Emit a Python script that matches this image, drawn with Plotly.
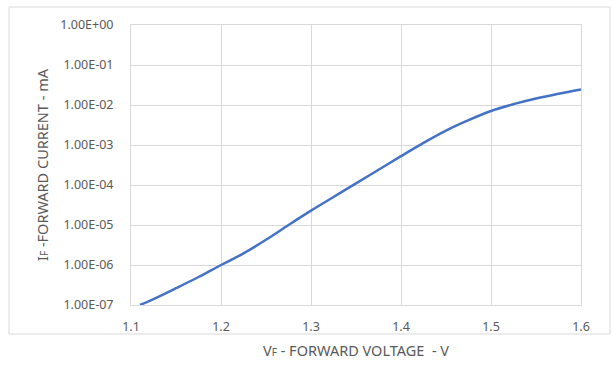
import plotly.graph_objects as go

voltage = [1.11, 1.125, 1.15, 1.175, 1.2, 1.225, 1.25, 1.275, 1.3, 1.325, 1.35, 1.375, 1.4, 1.425, 1.45, 1.475, 1.5, 1.525, 1.55, 1.575, 1.6]
current = [1.0e-7, 1.41e-7, 2.63e-7, 5.01e-7, 1.0e-6, 1.95e-6, 4.27e-6, 1.0e-5, 2.29e-5, 5.01e-5, 1.10e-4, 2.40e-4,
           5.25e-4, 1.13e-3, 2.29e-3, 4.17e-3, 7.08e-3, 1.05e-2, 1.46e-2, 1.92e-2, 2.45e-2]

y_tickvals = [1e-7, 1e-6, 1e-5, 1e-4, 1e-3, 1e-2, 1e-1, 1e0]
y_ticktext = ["1.00E-07", "1.00E-06", "1.00E-05", "1.00E-04", "1.00E-03", "1.00E-02", "1.00E-01", "1.00E+00"]
x_tickvals = [1.1, 1.2, 1.3, 1.4, 1.5, 1.6]
x_ticktext = ["1.1", "1.2", "1.3", "1.4", "1.5", "1.6"]
x_title = "V<span style='font-size:10px'>F</span> - FORWARD VOLTAGE  - V"
y_title = "I<span style='font-size:10px'>F</span> -FORWARD CURRENT - mA"

W, H = 613, 376
L, R, T, B = 131, 32, 25, 71
pw, ph = W - L - R, H - T - B

fig = go.Figure()
fig.add_trace(go.Scatter(x=voltage, y=current, mode="lines",
                         line=dict(color="#4472C4", width=2.5, shape="spline", smoothing=1.0),
                         hoverinfo="skip"))

grid = "#d9d9d9"
txt = "#595959"
fam = "Noto Sans, DejaVu Sans, sans-serif"

fig.update_layout(
    width=W, height=H,
    margin=dict(l=L, r=R, t=T, b=B, autoexpand=False),
    paper_bgcolor="white", plot_bgcolor="white",
    showlegend=False,
    font=dict(family=fam, size=12, color=txt),
    xaxis=dict(range=[1.1, 1.6], tickvals=x_tickvals, ticktext=x_ticktext,
               showgrid=True, gridcolor=grid, gridwidth=1,
               showline=True, linecolor=grid, mirror=True, zeroline=False,
               ticks="outside", ticklen=10, tickcolor="rgba(0,0,0,0)",
               tickfont=dict(family=fam, size=12.5, color=txt),
               automargin=False),
    yaxis=dict(type="log", range=[-7, 0], tickvals=y_tickvals, ticktext=y_ticktext,
               showgrid=True, gridcolor=grid, gridwidth=1,
               showline=True, linecolor=grid, mirror=True, zeroline=False,
               ticks="outside", ticklen=14, tickcolor="rgba(0,0,0,0)",
               tickfont=dict(family=fam, size=12.5, color=txt),
               automargin=False),
    annotations=[
        dict(text=x_title, xref="paper", yref="paper", x=0.5, y=(305 - 349.5) / ph,
             xanchor="center", yanchor="middle", showarrow=False,
             font=dict(family=fam, size=14.5, color=txt)),
        dict(text=y_title, xref="paper", yref="paper", x=(42 - L) / pw, y=(305 - 165) / ph,
             xanchor="center", yanchor="middle", textangle=-90, showarrow=False,
             font=dict(family=fam, size=14.5, color=txt)),
    ],
    shapes=[dict(type="rect", xref="paper", yref="paper",
                 x0=(9 - L) / pw, x1=(610 - L) / pw,
                 y0=(H - T - 380) / ph, y1=1 + (T - 7) / ph,
                 line=dict(color=grid, width=1), fillcolor="rgba(0,0,0,0)", layer="below")],
)

fig.write_html("out.html", config={"displayModeBar": False},
               post_script="document.body.style.margin='0';document.body.style.overflow='hidden';")
